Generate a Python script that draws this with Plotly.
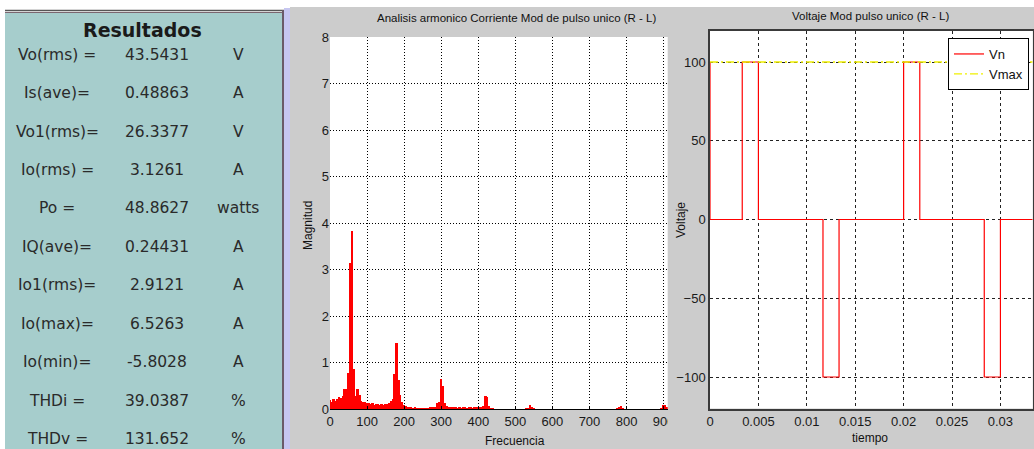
import plotly.graph_objects as go

W, H = 1034, 449

# ---------------- data ----------------
result_labels = ["Vo(rms) =", "Is(ave)=", "Vo1(rms)=", "Io(rms) =", "Po =", "IQ(ave)=",
                 "Io1(rms)=", "Io(max)=", "Io(min)=", "THDi =", "THDv ="]
result_values = ["43.5431", "0.48863", "26.3377", "3.1261", "48.8627", "0.24431",
                 "2.9121", "6.5263", "-5.8028", "39.0387", "131.652"]
result_units = ["V", "A", "V", "A", "watts", "A", "A", "A", "A", "%", "%"]

freq = [0, 5, 10, 15, 20, 25, 30, 35, 40, 45, 50, 55, 60, 65, 70, 75, 80, 85, 90, 95,
        100, 105, 110, 115, 120, 125, 130, 135, 140, 145, 150, 155, 160, 165, 170, 175,
        180, 185, 190, 195, 200, 205, 210, 215, 220, 225, 230, 235, 240, 245, 250, 255,
        260, 265, 270, 275, 280, 285, 290, 295, 300, 305, 310, 315, 320, 325, 330, 335,
        340, 345, 350, 355, 360, 365, 370, 375, 380, 385, 390, 395, 400, 405, 410, 415,
        420, 425, 430, 435, 440, 530, 535, 540, 545, 550, 775, 780, 785, 790, 895, 900,
        905, 910]
magnitude = [0.19, 0.15, 0.22, 0.17, 0.21, 0.25, 0.24, 0.28, 0.42, 0.42, 0.78, 3.13, 3.82,
             0.87, 0.28, 0.42, 0.30, 0.18, 0.16, 0.16,
             0.12, 0.13, 0.10, 0.12, 0.09, 0.11, 0.10, 0.08, 0.10, 0.09, 0.11, 0.10, 0.12,
             0.17, 0.22, 0.75,
             1.42, 0.63, 0.30, 0.14, 0.08, 0.06, 0.04, 0.03, 0.03, 0.02, 0.03, 0.02, 0.01,
             0.01, 0.01, 0.01,
             0.02, 0.02, 0.03, 0.03, 0.03, 0.05, 0.12, 0.15, 0.65, 0.50, 0.12, 0.07, 0.05,
             0.04, 0.04, 0.03,
             0.03, 0.02, 0.03, 0.02, 0.03, 0.03, 0.02, 0.03, 0.03, 0.02, 0.03, 0.04, 0.05,
             0.03, 0.05, 0.06,
             0.27, 0.26, 0.06, 0.02, 0.01, 0.01, 0.02, 0.08, 0.04, 0.01, 0.01, 0.05, 0.06,
             0.01, 0.02, 0.09,
             0.08, 0.05]

t_vn = [0, 0, 0.00333, 0.005, 0.01167, 0.01333, 0.02, 0.02167, 0.02833, 0.03, 0.03333]
v_vn = [100, 0, 100, 0, -100, 0, 100, 0, -100, 0, 0]
t_vmax = [0, 0.03333]
v_vmax = [100, 100]

x2_ticks = [0, 100, 200, 300, 400, 500, 600, 700, 800, 900]
y2_ticks = [0, 1, 2, 3, 4, 5, 6, 7, 8]
x3_ticks = [0, 0.005, 0.01, 0.015, 0.02, 0.025, 0.03]
x3_text = ["0", "0.005", "0.01", "0.015", "0.02", "0.025", "0.03"]
y3_ticks = [-100, -50, 0, 50, 100]

# ---------------- helpers ----------------
def px(x):
    return x / W

def py(y):
    return 1 - y / H

NARROW = "Liberation Sans Narrow, Arial Narrow, Liberation Sans, Arial, sans-serif"
WIDE = "DejaVu Sans, Verdana, sans-serif"
TEAL = "#A6CDCC"
GRAY = "#CCCCCC"

P2 = dict(x0=330, x1=667.7, y0=37, y1=409)
P3 = dict(x0=710, x1=1032.7, y0=30.5, y1=408.5)

fig = go.Figure()

fig.add_trace(go.Bar(x=freq, y=magnitude, width=5, marker=dict(color="#FF0000", line=dict(width=0)),
                     xaxis="x", yaxis="y", showlegend=False))
fig.add_trace(go.Scatter(x=t_vn, y=v_vn, mode="lines", line=dict(color="#FF0000", width=1.2, shape="hv"),
                         name="Vn", xaxis="x2", yaxis="y2"))
fig.add_trace(go.Scatter(x=t_vmax, y=v_vmax, mode="lines",
                         line=dict(color="#F0F000", width=1.3, dash="8px,3px,2px,3px"),
                         name="Vmax", xaxis="x2", yaxis="y2"))

tickfont = dict(family=NARROW, size=13, color="#1a1a1a")

fig.update_layout(
    width=W, height=H,
    margin=dict(l=0, r=0, t=0, b=0, pad=0),
    paper_bgcolor="white",
    plot_bgcolor="white",
    bargap=0,
    xaxis=dict(domain=[px(P2["x0"]), px(P2["x1"])], range=[0, 911], tickvals=x2_ticks,
               showgrid=True, gridcolor="#000000", griddash="1px,2px", gridwidth=1,
               zeroline=False, showline=True, linecolor="#000000", linewidth=1,
               ticks="inside", ticklen=3, tickcolor="#000000", tickfont=tickfont,
               anchor="y", fixedrange=True, automargin=False),
    yaxis=dict(domain=[py(P2["y1"]), py(P2["y0"])], range=[0, 8], tickvals=y2_ticks,
               showgrid=True, gridcolor="#000000", griddash="1px,2px", gridwidth=1,
               zeroline=False, showline=False, ticks="", tickfont=tickfont,
               anchor="x", fixedrange=True, automargin=False),
    xaxis2=dict(domain=[px(P3["x0"]), px(P3["x1"])], range=[0, 1 / 30], tickvals=x3_ticks,
                ticktext=x3_text,
                showgrid=True, gridcolor="#222222", griddash="3px,3px", gridwidth=1,
                zeroline=False, showline=True, mirror=True, linecolor="#3a3a3a", linewidth=1.5,
                ticks="", tickfont=tickfont, anchor="y2", fixedrange=True, automargin=False),
    yaxis2=dict(domain=[py(P3["y1"]), py(P3["y0"])], range=[-120, 120], tickvals=y3_ticks,
                showgrid=True, gridcolor="#222222", griddash="3px,3px", gridwidth=1,
                zeroline=False, showline=True, mirror=True, linecolor="#3a3a3a", linewidth=1.5,
                ticks="", tickfont=tickfont, anchor="x2", fixedrange=True, automargin=False),
    legend=dict(x=px(1029), xanchor="right", y=py(38), yanchor="top",
                bgcolor="white", bordercolor="#000000", borderwidth=1,
                font=dict(family=NARROW, size=13, color="#111111"),
                itemwidth=30, tracegroupgap=0),
)

def prect(x0, x1, y0, y1, color, layer="below"):
    return dict(type="rect", xref="paper", yref="paper", x0=px(x0), x1=px(x1), y0=py(y1), y1=py(y0),
                fillcolor=color, line=dict(width=0), layer=layer)

def pline(x0, x1, y0, y1, color, width):
    return dict(type="line", xref="paper", yref="paper", x0=px(x0), x1=px(x1), y0=py(y0), y1=py(y1),
                line=dict(color=color, width=width), layer="below")

shapes = [
    prect(290, W, 7, H, GRAY),                      # gray background of the charts
    prect(P2["x0"], P2["x1"], P2["y0"], P2["y1"], "white"),
    prect(P3["x0"], P3["x1"], P3["y0"], P3["y1"], "white"),
    prect(5, 283, 12, H, TEAL),                     # results panel
    prect(284, 290, 8, H, "#C6C6F0"),               # lavender strip
    pline(5, 284, 10.5, 10.5, "#555555", 1.5),
    pline(5, 283, 12.5, 12.5, "#7A6670", 1),
    pline(283, 283, 10, H, "#6A5A68", 2),
    prect(668, 702, 411, 434, GRAY, layer="above"),  # clipped part of the last tick label
]
fig.update_layout(shapes=shapes)

ann = []
ann.append(dict(text="<b>Resultados</b>", x=px(142), y=py(30), xref="paper", yref="paper",
                showarrow=False, xanchor="center", yanchor="middle",
                font=dict(family=WIDE, size=19, color="#1a1a1a")))
row0, step = 54.7, 38.45
for i, (lab, val, unit) in enumerate(zip(result_labels, result_values, result_units)):
    yy = row0 + i * step
    f = dict(family=WIDE, size=15.5, color="#2a2a2a")
    ann.append(dict(text=lab, x=px(57), y=py(yy), xref="paper", yref="paper", showarrow=False,
                    xanchor="center", yanchor="middle", font=f))
    ann.append(dict(text=val, x=px(157), y=py(yy), xref="paper", yref="paper", showarrow=False,
                    xanchor="center", yanchor="middle", font=f))
    ann.append(dict(text=unit, x=px(238), y=py(yy), xref="paper", yref="paper", showarrow=False,
                    xanchor="center", yanchor="middle", font=f))

tf = dict(family=NARROW, size=11.5, color="#111111")
af = dict(family=NARROW, size=12, color="#111111")
ann.append(dict(text="Analisis armonico Corriente Mod de pulso unico (R - L)", x=px(516.5), y=py(18),
                xref="paper", yref="paper", showarrow=False, xanchor="center", yanchor="middle", font=tf))
ann.append(dict(text="Frecuencia", x=px(515), y=py(441), xref="paper", yref="paper", showarrow=False,
                xanchor="center", yanchor="middle", font=af))
ann.append(dict(text="Magnitud", x=px(308), y=py(226), xref="paper", yref="paper", showarrow=False,
                xanchor="center", yanchor="middle", textangle=-90, font=af))
ann.append(dict(text="Voltaje Mod pulso unico (R - L)", x=px(870.5), y=py(16),
                xref="paper", yref="paper", showarrow=False, xanchor="center", yanchor="middle", font=tf))
ann.append(dict(text="tiempo", x=px(870), y=py(438), xref="paper", yref="paper", showarrow=False,
                xanchor="center", yanchor="middle", font=af))
ann.append(dict(text="Voltaje", x=px(681), y=py(220), xref="paper", yref="paper", showarrow=False,
                xanchor="center", yanchor="middle", textangle=-90, font=af))
fig.update_layout(annotations=ann)

fig.write_html("out.html", config={"displayModeBar": False},
               post_script="document.body.style.margin='0';document.body.style.overflow='hidden';")
